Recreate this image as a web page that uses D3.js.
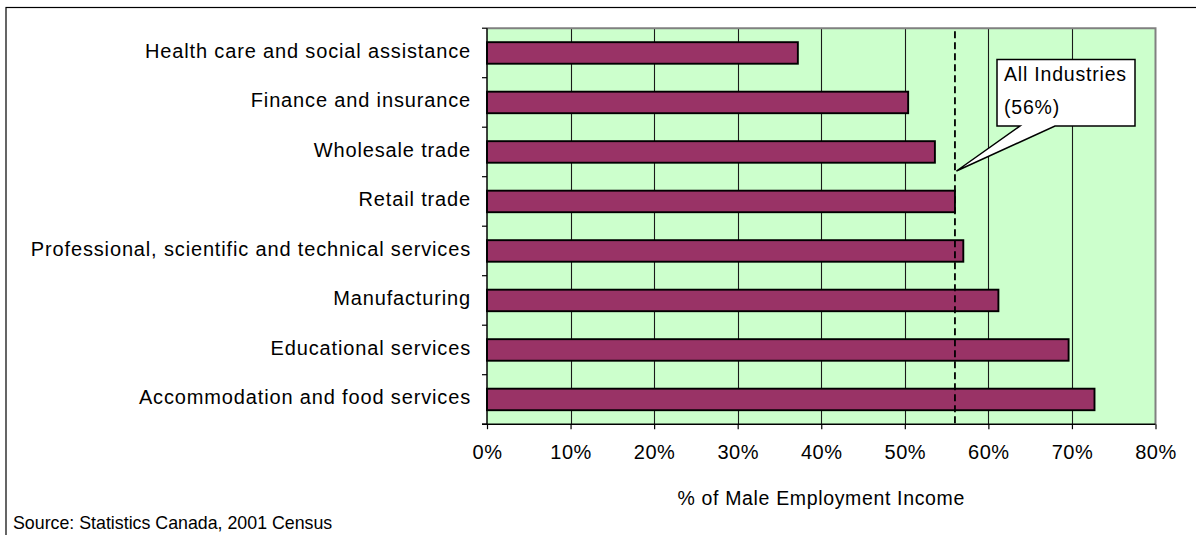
<!DOCTYPE html>
<html>
<head>
<meta charset="utf-8">
<script src="https://cdn.jsdelivr.net/npm/d3@7/dist/d3.min.js"></script>
<style>
  html, body { margin: 0; padding: 0; background: #fff; }
  svg { display: block; font-family: "Liberation Sans", Arial, sans-serif; }
</style>
</head>
<body>
<svg id="chart" width="1196" height="535"></svg>
<script>
// Industries, top to bottom
const categories = [
  "Health care and social assistance",
  "Finance and insurance",
  "Wholesale trade",
  "Retail trade",
  "Professional, scientific and technical services",
  "Manufacturing",
  "Educational services",
  "Accommodation and food services"
];
// Female employment income as a share of male employment income
const values = [0.372, 0.504, 0.536, 0.560, 0.570, 0.612, 0.696, 0.727];
const allIndustries = 0.56;
const xTicks = [0, 0.1, 0.2, 0.3, 0.4, 0.5, 0.6, 0.7, 0.8];
const calloutLines = ["All Industries", "(56%)"];
const axisTitle = "% of Male Employment Income";
const sourceNote = "Source: Statistics Canada, 2001 Census";

const svg = d3.select("#chart");
const W = 1196, H = 535;
const plot = { left: 487, right: 1155.5, top: 28.2, bottom: 424.2 };

const x = d3.scaleLinear().domain([0, 0.8]).range([plot.left, plot.right]);
const y = d3.scaleBand().domain(categories).range([plot.top, plot.bottom]).padding(0);
const barH = y.bandwidth() * 0.435;

// outer frame (open at right and bottom edges of the canvas)
svg.append("rect")
  .attr("x", 6).attr("y", 7.5).attr("width", W + 10).attr("height", H + 10)
  .attr("fill", "#fff").attr("stroke", "#000").attr("stroke-width", 1.2);

// plot background
svg.append("rect")
  .attr("x", plot.left).attr("y", plot.top)
  .attr("width", plot.right - plot.left).attr("height", plot.bottom - plot.top)
  .attr("fill", "#CCFFCC");

// vertical gridlines
svg.append("g").selectAll("line")
  .data(xTicks.slice(1, -1))
  .join("line")
  .attr("x1", d => Math.round(x(d)) + 0.5).attr("x2", d => Math.round(x(d)) + 0.5)
  .attr("y1", plot.top).attr("y2", plot.bottom)
  .attr("stroke", "#1a1a1a").attr("stroke-width", 1.1);

// plot border (top and right, grey)
svg.append("path")
  .attr("d", `M${plot.left},${plot.top}H${plot.right}V${plot.bottom}`)
  .attr("fill", "none").attr("stroke", "#808080").attr("stroke-width", 2);

// bars
svg.append("g").selectAll("rect")
  .data(values)
  .join("rect")
  .attr("x", x(0))
  .attr("y", (d, i) => y(categories[i]) + (y.bandwidth() - barH) / 2)
  .attr("width", d => x(d) - x(0))
  .attr("height", barH)
  .attr("fill", "#993366")
  .attr("stroke", "#000").attr("stroke-width", 1.9);

// all-industries reference line
svg.append("line")
  .attr("x1", x(allIndustries)).attr("x2", x(allIndustries))
  .attr("y1", plot.top + 3).attr("y2", plot.bottom)
  .attr("stroke", "#000").attr("stroke-width", 1.8)
  .attr("stroke-dasharray", "7,4");

// callout box with pointer to the reference line
const tipX = x(allIndustries) + 1.5, tipY = 171;
const bx0 = 997, bx1 = 1135, by0 = 59.5, by1 = 126;
svg.append("path")
  .attr("d", `M${bx0},${by0}H${bx1}V${by1}H1055L${tipX},${tipY}L1020,${by1}H${bx0}Z`)
  .attr("fill", "#fff").attr("stroke", "#000").attr("stroke-width", 1.5)
  .attr("stroke-linejoin", "miter");
svg.append("g").selectAll("text")
  .data(calloutLines)
  .join("text")
  .attr("x", 1004)
  .attr("y", (d, i) => 81 + i * 33)
  .attr("font-size", 19.5)
  .attr("letter-spacing", 0.8)
  .attr("fill", "#000")
  .text(d => d);

// category axis
const yAxis = svg.append("g").attr("transform", `translate(${plot.left},0)`);
yAxis.append("line")
  .attr("x1", 0).attr("x2", 0).attr("y1", plot.top).attr("y2", plot.bottom)
  .attr("stroke", "#000").attr("stroke-width", 1.5);
yAxis.selectAll("line.tick")
  .data(categories.map(c => y(c)).concat([plot.bottom]))
  .join("line").attr("class", "tick")
  .attr("x1", -5).attr("x2", 0).attr("y1", d => d).attr("y2", d => d)
  .attr("stroke", "#000").attr("stroke-width", 1.2);
yAxis.selectAll("text")
  .data(categories)
  .join("text")
  .attr("x", -16)
  .attr("y", d => y(d) + y.bandwidth() / 2 - 2)
  .attr("dy", "0.35em")
  .attr("text-anchor", "end")
  .attr("font-size", 20)
  .attr("letter-spacing", 0.85)
  .attr("fill", "#000")
  .text(d => d);

// value axis
const xAxis = d3.axisBottom(x)
  .tickValues(xTicks)
  .tickFormat(d3.format(".0%"))
  .tickSize(5)
  .tickSizeOuter(0)
  .tickPadding(16);
const gx = svg.append("g")
  .attr("transform", `translate(0,${plot.bottom})`)
  .call(xAxis);
gx.select(".domain").remove();
gx.append("line")
  .attr("x1", plot.left - 5).attr("x2", plot.right).attr("y1", 0).attr("y2", 0)
  .attr("stroke", "#000").attr("stroke-width", 1.5);
gx.selectAll(".tick line").attr("stroke", "#000").attr("stroke-width", 1.2);
gx.selectAll(".tick text")
  .attr("font-size", 20)
  .attr("letter-spacing", 0.5)
  .attr("font-family", "'Liberation Sans', Arial, sans-serif")
  .attr("fill", "#000");

// axis title
svg.append("text")
  .attr("x", (plot.left + plot.right) / 2).attr("y", 505)
  .attr("text-anchor", "middle").attr("font-size", 19.5)
  .attr("letter-spacing", 0.65).attr("fill", "#000")
  .text(axisTitle);

// source note
svg.append("text")
  .attr("x", 13).attr("y", 529)
  .attr("font-size", 17.8).attr("fill", "#000")
  .text(sourceNote);
</script>
</body>
</html>
